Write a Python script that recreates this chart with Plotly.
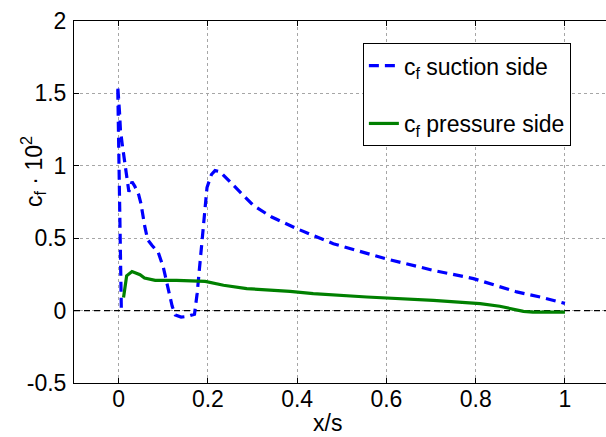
import plotly.graph_objects as go

# Suction side c_f * 10^2
x_suction = [0.006, 0.002, -0.002, 0.0, 0.002, 0.004, 0.008, 0.015, 0.023, 0.030, 0.036,
             0.045, 0.050, 0.058, 0.065, 0.075, 0.089, 0.100, 0.110, 0.120, 0.127, 0.140,
             0.155, 0.170, 0.176, 0.183, 0.190, 0.198, 0.208, 0.216, 0.227, 0.240, 0.257,
             0.280, 0.302, 0.343, 0.399, 0.481, 0.597, 0.705, 0.795, 0.892, 0.950, 1.000]
y_suction = [0.02, 0.80, 1.55, 1.46, 1.37, 1.25, 1.15, 1.00, 0.82, 0.89, 0.86,
             0.80, 0.74, 0.59, 0.49, 0.45, 0.40, 0.30, 0.16, 0.03, -0.03, -0.045,
             -0.04, -0.025, 0.12, 0.36, 0.62, 0.85, 0.94, 0.967, 0.96, 0.92, 0.864,
             0.79, 0.726, 0.646, 0.566, 0.462, 0.359, 0.278, 0.221, 0.129, 0.09, 0.05]

# Pressure side c_f * 10^2
x_pressure = [0.011, 0.015, 0.018, 0.030, 0.048, 0.058, 0.082, 0.130, 0.183, 0.194,
              0.235, 0.287, 0.384, 0.436, 0.556, 0.705, 0.810, 0.854, 0.907, 0.928, 1.000]
y_pressure = [0.09, 0.20, 0.24, 0.27, 0.248, 0.225, 0.209, 0.209, 0.202, 0.202,
              0.175, 0.152, 0.133, 0.117, 0.094, 0.071, 0.048, 0.030, -0.005, -0.01, -0.01]

x_ticks = [0, 0.2, 0.4, 0.6, 0.8, 1]
x_ticklabels = ["0", "0.2", "0.4", "0.6", "0.8", "1"]
y_ticks = [-0.5, 0, 0.5, 1, 1.5, 2]
y_ticklabels = ["-0.5", "0", "0.5", "1", "1.5", "2"]
x_range = [-0.1, 1.092]
y_range = [-0.5, 2]

FONT = "Liberation Sans, Arial, Helvetica, sans-serif"
SUB_F = "<sub>f</sub>"

fig = go.Figure()

fig.add_trace(go.Scatter(
    x=x_range, y=[0, 0], mode="lines",
    line=dict(color="black", width=1.3, dash="6px,4px"),
    showlegend=False, hoverinfo="skip"))

fig.add_trace(go.Scatter(
    x=x_suction, y=y_suction, mode="lines",
    name="c" + SUB_F + " suction side", legendgroup="a",
    line=dict(color="#0000ff", width=3.2, dash="10px,6px")))

fig.add_trace(go.Scatter(
    x=x_pressure, y=y_pressure, mode="lines",
    name="c" + SUB_F + " pressure side", legendgroup="b",
    line=dict(color="#008000", width=3.2)))

plot_w = 606 - 74
plot_h = 437 - 21 - 54

fig.update_layout(
    width=606, height=437,
    margin=dict(l=74, r=0, t=21, b=54),
    paper_bgcolor="white", plot_bgcolor="white",
    font=dict(family=FONT, size=23, color="black"),
    legend=dict(
        x=0.543, y=0.939, xanchor="left", yanchor="top",
        bgcolor="white", bordercolor="black", borderwidth=1,
        font=dict(family=FONT, size=23, color="black"),
        tracegroupgap=25, itemwidth=30),
    annotations=[
        dict(text="x/s", xref="paper", yref="paper",
             x=(327 - 74) / plot_w, y=(437 - 54 - 423) / plot_h,
             xanchor="center", yanchor="middle",
             showarrow=False, font=dict(size=23)),
        dict(text="c" + SUB_F + " · 10<sup>2</sup>", xref="paper", yref="paper",
             x=(33 - 74) / plot_w, y=(437 - 54 - 172) / plot_h,
             xanchor="center", yanchor="middle",
             showarrow=False, textangle=-90, font=dict(size=23)),
    ],
)

fig.update_xaxes(
    range=x_range, tickvals=x_ticks, ticktext=x_ticklabels,
    showline=True, linecolor="black", linewidth=1, mirror="ticks",
    ticks="inside", ticklen=5, tickcolor="black",
    showgrid=True, gridcolor="#a6a6a6", griddash="dot", gridwidth=1,
    zeroline=False, tickfont=dict(size=23), ticklabelstandoff=-5)
fig.update_yaxes(
    range=y_range, tickvals=y_ticks, ticktext=y_ticklabels,
    showline=True, linecolor="black", linewidth=1, mirror=False,
    ticks="inside", ticklen=5, tickcolor="black",
    showgrid=True, gridcolor="#a6a6a6", griddash="dot", gridwidth=1,
    zeroline=False, tickfont=dict(size=23), ticklabelstandoff=2)

fig.write_html("out.html")
